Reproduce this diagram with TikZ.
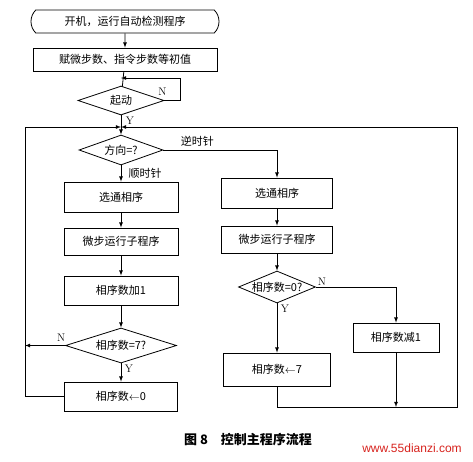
\documentclass[tikz,border=0pt]{standalone}
\usepackage{fontspec}
\newfontfamily\cjk{Noto Sans CJK SC}
\setsansfont{Liberation Sans}
\usepackage{xcolor}
\usetikzlibrary{arrows}
\usetikzlibrary{shapes.geometric, shapes.misc}
\definecolor{wmred}{RGB}{215, 35, 30}
\newcommand{\dtext}[1]{\makebox[0pt]{#1}}

\begin{document}
\begin{tikzpicture}[x=1pt, y=-1pt, line width=0.8pt,
  font=\cjk\fontsize{11}{13}\selectfont,
  proc/.style 2 args={draw, rectangle, inner sep=0pt, minimum width=#1 pt, minimum height=#2 pt},
  decision/.style 2 args={draw, diamond, inner sep=0pt, minimum width=#1 pt, minimum height=#2 pt},
  term/.style={draw, rounded rectangle, rounded rectangle arc length=90, inner sep=0pt, minimum width=188pt, minimum height=23pt},
  lbl/.style={font=\fontsize{11}{13}\selectfont, inner sep=1.5pt}]
\useasboundingbox (0,0) rectangle (473,461);

\node[term] (start) at (125,21.5) {开机，运行自动检测程序};
\node[proc={184}{23}] (init) at (125,59.5) {赋微步数、指令步数等初值};
\node[decision={86}{29}] (qstart) at (121,100.5) {\dtext{起动}};
\node[decision={84}{30}] (qdir) at (121,150) {\dtext{方向=?}};

\node[proc={114}{30}] (selL) at (121,197) {选通相序};
\node[proc={114}{27}] (runL) at (121,241.5) {微步运行子程序};
\node[proc={114}{29}] (inc) at (121,290.5) {相序数加1};
\node[decision={111}{35}] (q7) at (121,345.5) {\dtext{相序数=7?}};
\node[proc={113}{29}] (zero) at (121,396.5) {相序数$\leftarrow$0};

\node[proc={111}{30}] (selR) at (277,193) {选通相序};
\node[proc={111}{27}] (runR) at (277,239.5) {微步运行子程序};
\node[decision={77}{32}] (q0) at (277,287) {\dtext{相序数=0?}};
\node[proc={107}{33}] (seven) at (277,369.5) {相序数$\leftarrow$7};
\node[proc={86}{29}] (dec) at (396,337.5) {相序数减1};

\coordinate (nin) at (121,78);
\coordinate (nloop) at (180,78);
\coordinate (merge) at (121,127);
\coordinate (ccw) at (277,150);
\coordinate (nL) at (25,345.5);
\coordinate (loopL) at (25,127);
\coordinate (joinL) at (277,407);
\coordinate (joinM) at (396,407);
\coordinate (joinR) at (457,407);
\coordinate (loopR) at (457,127);

\draw[-latex] (start) -- (init);
\draw (init) -- (qstart);
\draw[-latex] (qstart.east) node[lbl, above, xshift=-2pt, yshift=3pt]{N} -| (nloop) -- (nin);
\draw (qstart.south) node[lbl, below right, xshift=3pt]{Y} -- (merge);
\draw[-latex] (merge) -- (qdir);

\draw[-latex] (qdir.east) -- (ccw) node[pos=0.3, above]{逆时针} -- (selR);
\draw[-latex] (qdir) -- (selL) node[midway, right, xshift=4pt]{顺时针};
\draw[-latex] (selL) -- (runL);
\draw[-latex] (runL) -- (inc);
\draw[-latex] (inc) -- (q7);
\draw[-latex] (q7) -- (zero) node[lbl, pos=0.3, right, xshift=2pt]{Y};
\draw[-latex] (q7.west) -- (nL) node[lbl, pos=0.1, above, yshift=2pt]{N};
\draw[-latex] (zero.west) -| (loopL) -- (merge);

\draw[-latex] (selR) -- (runR);
\draw[-latex] (runR) -- (q0);
\draw[-latex] (q0.east) node[lbl, above right]{N} -| (dec);
\draw[-latex] (q0.south) node[lbl, below right, xshift=2pt]{Y} -- (seven);
\draw[-latex] (dec) -- (joinM);
\draw[-latex] (seven) -- (joinL) -- (joinR) -- (loopR) -- (merge);

\node[font=\cjk\fontsize{13}{15}\selectfont\bfseries] (caption) at (248,440) {图 8\quad 控制主程序流程};
\node[font=\sffamily\fontsize{12}{14}\selectfont, text=wmred] (www) at (412,448) {www.55dianzi.com};
\end{tikzpicture}
\end{document}
